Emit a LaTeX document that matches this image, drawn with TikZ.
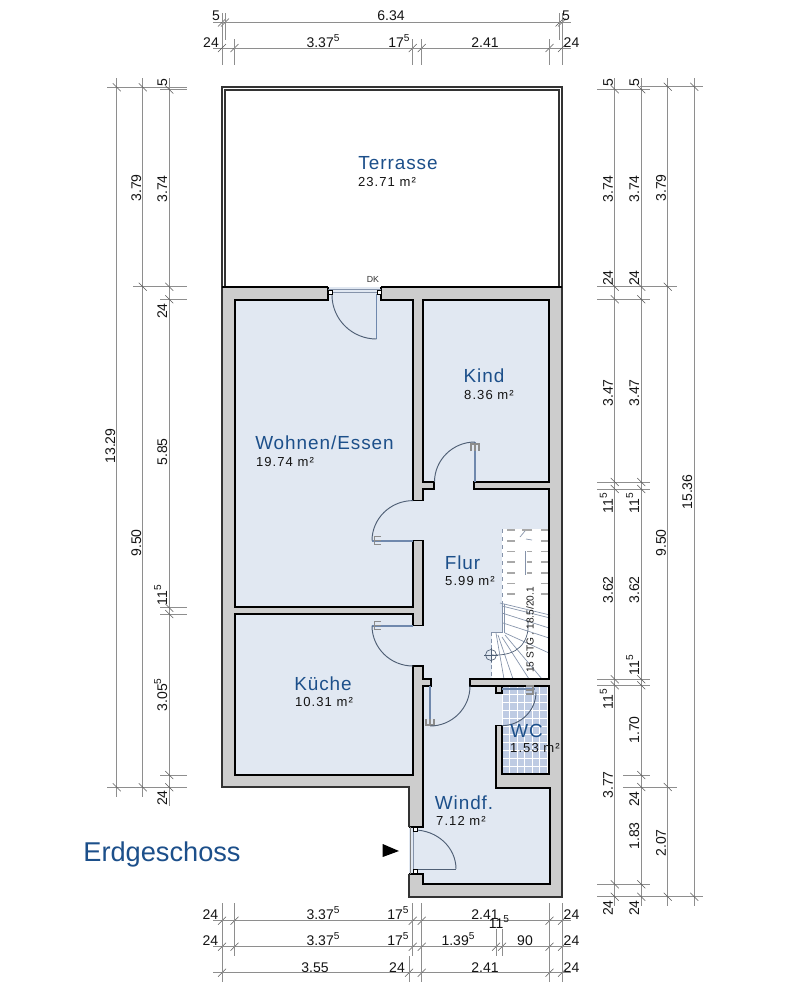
\documentclass[tikz,border=0pt]{standalone}
\usepackage{fontspec}
\setmainfont{Liberation Sans}
\newfontfamily\roomf[LetterSpace=5]{Liberation Sans}
\newfontfamily\areaf[LetterSpace=8]{Liberation Sans}
\usetikzlibrary{calc}
\definecolor{floorc}{HTML}{E1E8F2}
\definecolor{wallc}{HTML}{CDCDCD}
\definecolor{dimc}{HTML}{8E8E8E}
\definecolor{roomc}{HTML}{1C4F8A}
\definecolor{leafc}{HTML}{6F88AD}
\definecolor{swingc}{HTML}{4F5F75}
\definecolor{stairc}{HTML}{8593AA}
\definecolor{treadc}{HTML}{A8A8A8}
\definecolor{tilec}{HTML}{BECBE3}
\newcount\tcnt
\newcommand{\sv}{\raisebox{0.42em}{\fontsize{7.6pt}{8pt}\selectfont 5}}
\tikzset{
  wall/.style={draw=black,line width=1pt,line join=miter},
  dimline/.style={draw=dimc,line width=0.6pt},
  tickm/.style={draw=black!65,line width=0.4pt},
  dimtext/.style={inner sep=0,text height=7.6pt,text depth=0pt,font=\fontsize{10.5pt}{12pt}\selectfont,text=black!92},
  roomname/.style={inner sep=0,text height=10pt,text depth=0pt,font=\fontsize{14.2pt}{16pt}\selectfont\roomf,text=roomc},
  roomarea/.style={inner sep=0,text height=7pt,text depth=0pt,font=\fontsize{9.8pt}{12pt}\selectfont\areaf,text=black!92},
  leaf/.style={draw=leafc,line width=1.6pt},
  swing/.style={draw=swingc,line width=0.7pt},
  handle/.style={draw=black!45,line width=0.9pt},
  hinge/.style={draw=black,fill=white,line width=0.6pt},
  winder/.style={draw=stairc,line width=0.5pt},
  tread/.style={draw=treadc,line width=0.9pt},
}
\newcommand{\hdim}[3]{\draw[dimline] (#2,#1) -- (#3,#1);}
\newcommand{\hticks}[2]{\foreach \xx in {#2} {\draw[tickm] (\xx-4,#1+4) -- (\xx+4,#1-4);}}
\newcommand{\vticks}[2]{\foreach \yy in {#2} {\draw[tickm] (#1-4,\yy-4) -- (#1+4,\yy+4);}}
\newcommand{\hlab}[3]{\global\advance\tcnt by 1 \node[dimtext] (dimh\the\tcnt) at (#1,#2) {#3};}
\newcommand{\vlab}[3]{\global\advance\tcnt by 1 \node[dimtext,rotate=90] (dimv\the\tcnt) at (#1,#2) {#3};}
\newcommand{\qarc}[6]{\draw[swing] (#1,#2) .. controls ($(#1,#2)!.552!(#3,#4)$) and ($(#5,#6)!.552!(#3,#4)$) .. (#5,#6);}
\begin{document}
\begin{tikzpicture}[x=0.75pt,y=-0.75pt]
\useasboundingbox (0,0) rectangle (803,1000);
\fill[white] (0,0) rectangle (803,1000);

% ---------- building
\fill[wallc] (222,287) -- (562,287) -- (562,897) -- (409,897) -- (409,787) -- (222,787) -- cycle;
\fill[floorc] (235,300) rectangle (413,607);
\fill[floorc] (235,614) rectangle (413,775);
\fill[floorc] (423,300) rectangle (549,482);
\fill[floorc] (423,489) rectangle (549,679);
\fill[floorc] (423,686) rectangle (496,788);
\fill[floorc] (423,788) rectangle (550,884);
\fill[floorc] (328,287) rectangle (381,300);
\fill[floorc] (413,500.6) rectangle (423,540.7);
\fill[floorc] (413,625.7) rectangle (423,666);
\fill[floorc] (434,482) rectangle (474,489);
\fill[floorc] (431,679) rectangle (470,686);
\fill[floorc] (496,693) rectangle (502,725.6);
\fill[floorc] (409,827) rectangle (423,874);

% WC tiles
\fill[tilec] (502,686) rectangle (549,774);
\begin{scope}
\clip (502,686) rectangle (549,774);
\foreach \k in {0,...,6} {\draw[white,line width=0.55pt] (502+7.5*\k,686) -- (502+7.5*\k,774);}
\foreach \k in {1,...,11} {\draw[white,line width=0.55pt] (502,686+8*\k) -- (549,686+8*\k);}
\end{scope}

% Stairs
\fill[white] (502,529) -- (549,529) -- (549,679) -- (491.5,679) -- (491.5,632) -- (502,632) -- cycle;
\foreach \yy in {530,541,551.5,562,573,583.5,594} {
  \draw[tread] (507,\yy) -- (515,\yy);
  \draw[tread] (541,\yy) -- (548,\yy);
}
\foreach \yy in {551.5,562,573} {\draw[tread] (527,\yy) -- (532,\yy);}
\draw[tread] (522,530) -- (532,530);
\draw[winder,dashed] (502,529) -- (502,604);
\draw[winder] (520,537) -- (525,531);
\draw[winder] (526,539) -- (532,540);
\draw[winder] (525,551) -- (525,575);
\foreach \ax/\ay/\bx/\by in {
  500/603/550/615, 502/606/550/618, 502/613/549/628, 503/623/549/638,
  505/633/549/653, 505/635/542/679, 502/637/529/679, 498/635/513/679,
  496/633/504/679, 502/604/502/633, 504/604/504/633, 491.5/632/502/632} {
  \draw[winder] (\ax,\ay) -- (\bx,\by);
}
\draw[winder,densely dashed] (491.5,632) -- (491.5,679);
\draw[winder,draw=swingc] (491,655) .. controls (510,656) and (525,650) .. (528,630) -- (528,620);
\draw[swingc,line width=0.5pt] (491,655) circle[radius=5.5];
\draw[swingc,line width=0.4pt] (484,655) -- (498,655) (491,648) -- (491,662);
\node[inner sep=0,rotate=90,font=\fontsize{7.6pt}{8pt}\selectfont,text=black!90] (stairtext) at (530,630) {15 STG . 18.5/20.1};

% ---------- walls
\draw[wall] (328,287) -- (328,300) -- (235,300) -- (235,607) -- (413,607) -- (413,540.7) -- (423,540.7) -- (423,625.7) -- (413,625.7) -- (413,614) -- (235,614) -- (235,775) -- (413,775) -- (413,666) -- (423,666) -- (423,679) -- (431,679) -- (431,686) -- (423,686) -- (423,827) -- (409,827);
\draw[wall] (381,287) -- (381,300) -- (413,300) -- (413,500.6) -- (423,500.6) -- (423,489) -- (434,489) -- (434,482) -- (423,482) -- (423,300) -- (549,300) -- (549,482) -- (474,482) -- (474,489) -- (549,489) -- (549,679) -- (470,679) -- (470,686) -- (496,686) -- (496,693) -- (502,693) -- (502,686);
\draw[wall] (470,686) -- (549,686) -- (549,774) -- (502,774) -- (502,725.6) -- (496,725.6) -- (496,788) -- (550,788) -- (550,884) -- (423,884) -- (423,874) -- (409,874);
\fill[white] (225,90) rectangle (559,286);
\draw[black!80,line width=1.1pt] (409,827) -- (409,787) -- (222,787) -- (222,87) -- (562,87) -- (562,897) -- (409,897) -- (409,874);
\draw[black!80,line width=0.9pt] (225,287) -- (225,90) -- (559,90) -- (559,287);
\draw[black,line width=1pt] (222,287) -- (328,287) (381,287) -- (562,287);
\draw[black!50,line width=0.5pt] (410,827) -- (410,874);

% ---------- doors
\draw[stairc,line width=0.7pt] (328,289) -- (381,289) (328,292) -- (381,292);
\draw[leaf,line width=1pt] (376.5,294) -- (376.5,339);
\qarc{332}{295}{332}{339}{376.5}{339}
\draw[hinge] (328.5,290) rectangle (332.5,294.5) (377,290) rectangle (381,294.5);
\node[inner sep=0,font=\fontsize{6.6pt}{8pt}\selectfont,text=black!80] (dk) at (373,279) {DK};
\draw[leaf] (475,482) -- (475,442);
\draw[handle] (471,451) -- (471,444) -- (479,444) -- (479,451) (475,444) -- (475,451);
\qarc{475}{442}{434.5}{442}{434.5}{482}
\draw[leaf] (413,540.7) -- (372,540.7);
\draw[handle] (381,536.5) -- (374.5,536.5) -- (374.5,544.5) -- (381,544.5) (374.5,540.7) -- (381,540.7);
\qarc{372}{540.7}{372}{500.6}{413}{500.6}
\draw[leaf] (413,625.7) -- (372,625.7);
\draw[handle] (381,621.5) -- (374.5,621.5) -- (374.5,629.5) -- (381,629.5) (374.5,625.7) -- (381,625.7);
\qarc{372}{625.7}{372}{666}{413}{666}
\draw[leaf] (430,686) -- (430,726);
\draw[handle] (426,719) -- (426,725) -- (434,725) -- (434,719) (430,725) -- (430,719);
\qarc{430}{726}{470}{726}{470}{686}
\draw[leaf,line width=1pt] (502,689) -- (535,689);
\draw[handle] (526,686) -- (533,686) -- (533,694) -- (526,694) (526,690) -- (533,690);
\qarc{536}{692}{536}{725.6}{502}{725.6}
\draw[stairc,line width=0.6pt] (413,829) -- (413,872);
\draw[swingc,line width=0.7pt] (414,869) -- (456,869);
\qarc{456}{869}{456}{830}{414}{830}
\draw[hinge] (413,827.5) rectangle (417,831.5) (413,869.5) rectangle (417,873.5);
\fill[black] (382.7,844) -- (399,851) -- (382.7,857) -- cycle;

% ---------- room labels
\node[roomname] (terrasse) at (398,163) {Terrasse};
\node[roomarea] (terrassea) at (387,182) {23.71 m²};
\node[roomname] (wohnen) at (324.5,443) {Wohnen/Essen};
\node[roomarea] (wohnena) at (285,462) {19.74 m²};
\node[roomname] (kind) at (484,376) {Kind};
\node[roomarea] (kinda) at (489,395) {8.36 m²};
\node[roomname] (flur) at (462.5,563) {Flur};
\node[roomarea] (flura) at (470,581) {5.99 m²};
\node[roomname] (kueche) at (323,684) {Küche};
\node[roomarea] (kuechea) at (324,702) {10.31 m²};
\node[roomname] (wc) at (526.5,731) {WC};
\node[roomarea] (wca) at (535,748) {1.53 m²};
\node[roomname] (windf) at (464,803) {Windf.};
\node[roomarea] (windfa) at (461,821) {7.12 m²};
\node[inner sep=0,font=\fontsize{20.4pt}{24pt}\selectfont,text=roomc] (geschoss) at (162,854) {Erdgeschoss};

% ---------- top dimensions
\hdim{22.5}{213}{571}
\hticks{22.5}{222,225,559.5,562}
\draw[dimline] (222,13) -- (222,65) (225,13) -- (225,40) (559.5,13) -- (559.5,40) (562,13) -- (562,65);
\hlab{216}{15}{5}\hlab{391}{15}{6.34}\hlab{566}{15}{5}
\hdim{48}{213}{571}
\hticks{48}{222,234.5,412.7,421.7,549.5,562}
\draw[dimline] (234.5,39) -- (234.5,65) (412.7,39) -- (412.7,65) (421.7,39) -- (421.7,65) (549.5,39) -- (549.5,65);
\hlab{211}{42}{24}\hlab{323}{42}{3.37\sv}\hlab{399}{42}{17\sv}\hlab{485}{42}{2.41}\hlab{571.5}{42}{24}

% ---------- bottom dimensions
\foreach \yy in {920.7,946.7,972.7} {\hdim{\yy}{213}{571}}
\hticks{920.7}{222,234.5,412.7,421.7,549.5,562}
\hticks{946.7}{222,234.5,412.7,421.7,496,502,549.5,562}
\hticks{972.7}{222,409,421.7,549.5,562}
\draw[dimline] (222,903) -- (222,982) (234.5,903) -- (234.5,956) (412.7,903) -- (412.7,956) (421.7,903) -- (421.7,982) (549.5,903) -- (549.5,982) (562,903) -- (562,982) (409,956) -- (409,982) (496,929) -- (496,956) (502,929) -- (502,956);
\hlab{210.5}{914}{24}\hlab{323}{914}{3.37\sv}\hlab{398}{914}{17\sv}\hlab{485}{914}{2.41}\hlab{571.5}{914}{24}
\hlab{499}{923}{11\sv}
\hlab{210.5}{940}{24}\hlab{323}{940}{3.37\sv}\hlab{398}{940}{17\sv}\hlab{458}{940}{1.39\sv}\hlab{525}{940}{90}\hlab{571.5}{940}{24}
\hlab{315}{967}{3.55}\hlab{397}{967}{24}\hlab{485}{967}{2.41}\hlab{571.5}{967}{24}

% ---------- left dimensions
\foreach \xx in {116.7,142.7,169.3} {\draw[dimline] (\xx,78) -- (\xx,\ifdim\xx pt>150pt 806\else 797\fi);}
\draw[dimline] (107,87.3) -- (187,87.3) (160,89.6) -- (187,89.6) (133,286.7) -- (187,286.7) (160,299.3) -- (187,299.3) (160,607.7) -- (187,607.7) (160,614) -- (187,614) (160,775) -- (187,775) (107,787.3) -- (187,787.3);
\vticks{116.7}{87.3,787.3}
\vticks{142.7}{87.3,286.7,787.3}
\vticks{169.3}{89.6,286.7,299.3,607.7,614,775,787.3}
\vlab{110}{446}{13.29}
\vlab{136}{188}{3.79}\vlab{136}{543}{9.50}
\vlab{162}{83}{5}\vlab{162}{189}{3.74}\vlab{162}{311}{24}\vlab{162}{452}{5.85}\vlab{162}{595}{11\sv}\vlab{162}{695}{3.05\sv}\vlab{162}{798}{24}

% ---------- right dimensions
\foreach \xx in {614.7,641.3,667.7,694.3} {\draw[dimline] (\xx,78) -- (\xx,906);}
\draw[dimline] (640,86.7) -- (703,86.7) (597,89.3) -- (650,89.3) (597,286.7) -- (677,286.7) (597,299.3) -- (650,299.3) (597,482) -- (650,482) (597,489) -- (650,489) (597,679.3) -- (650,679.3) (597,685.3) -- (650,685.3) (623,775) -- (650,775) (623,787) -- (677,787) (597,884.3) -- (650,884.3) (597,896.7) -- (703,896.7);
\vticks{614.7}{89.3,286.7,299.3,482,489,679.3,685.3,884.3,896.7}
\vticks{641.3}{89.3,286.7,299.3,482,489,679.3,685.3,775,787,884.3,896.7}
\vticks{667.7}{86.7,286.7,787,896.7}
\vticks{694.3}{86.7,896.7}
\vlab{607.7}{83}{5}\vlab{607.7}{189}{3.74}\vlab{607.7}{278}{24}\vlab{607.7}{393}{3.47}\vlab{607.7}{503}{11\sv}\vlab{607.7}{590}{3.62}\vlab{607.7}{699}{11\sv}\vlab{607.7}{785}{3.77}\vlab{607.7}{908}{24}
\vlab{634}{83}{5}\vlab{634}{189}{3.74}\vlab{634}{278}{24}\vlab{634}{393}{3.47}\vlab{634}{503}{11\sv}\vlab{634}{590}{3.62}\vlab{634}{665}{11\sv}\vlab{634}{730}{1.70}\vlab{634}{799}{24}\vlab{634}{836}{1.83}\vlab{634}{908}{24}
\vlab{660.7}{188}{3.79}\vlab{660.7}{543}{9.50}\vlab{660.7}{843}{2.07}
\vlab{687}{492}{15.36}
\end{tikzpicture}
\end{document}
